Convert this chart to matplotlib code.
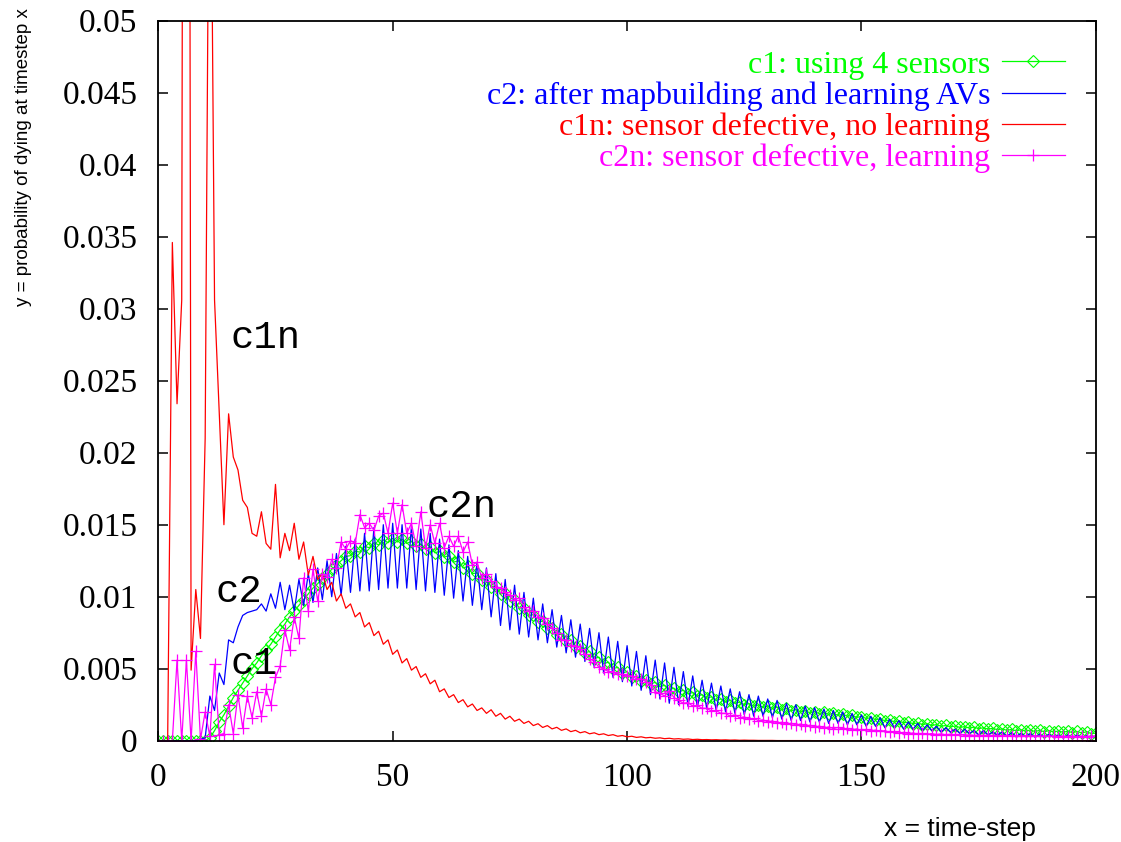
import numpy as np
import matplotlib.pyplot as plt
from matplotlib.ticker import FuncFormatter

plt.rcParams['font.family'] = ['Liberation Serif', 'DejaVu Serif']

# probability of dying at time-step x, stored in units of 1e-5
steps = np.arange(201)

c1 = [0, 0, 0, 0, 0, 0, 0, 0, 0, 0,
      0, 20, 70, 130, 180, 240, 300, 350, 400, 450,
      500, 540, 590, 630, 670, 720, 770, 810, 860, 900,
      940, 980, 1020, 1060, 1090, 1130, 1160, 1190, 1220, 1250,
      1280, 1285, 1315, 1310, 1350, 1340, 1375, 1360, 1395, 1375,
      1405, 1380, 1400, 1370, 1385, 1350, 1365, 1330, 1345, 1305,
      1315, 1275, 1285, 1240, 1250, 1200, 1210, 1160, 1165, 1115,
      1120, 1070, 1075, 1020, 1025, 970, 975, 920, 925, 870,
      875, 825, 830, 780, 785, 735, 740, 690, 700, 650,
      660, 610, 620, 570, 580, 535, 545, 500, 510, 470,
      480, 440, 450, 415, 425, 395, 405, 375, 385, 355,
      365, 340, 350, 325, 335, 310, 320, 295, 305, 280,
      290, 270, 280, 260, 268, 250, 258, 240, 248, 232,
      240, 224, 232, 216, 224, 208, 216, 200, 208, 194,
      202, 188, 196, 182, 190, 176, 184, 170, 176, 162,
      168, 154, 160, 146, 152, 138, 144, 130, 136, 124,
      130, 118, 124, 112, 118, 106, 112, 100, 106, 96,
      102, 92, 98, 88, 94, 84, 90, 80, 86, 76,
      82, 72, 78, 68, 76, 66, 74, 64, 72, 62,
      70, 60, 68, 58, 66, 56, 64, 54, 62, 50,
      52]

c2 = [0, 0, 0, 0, 0, 0, 0, 0, 0, 10,
      20, 310, 210, 470, 390, 700, 680, 790, 870, 890,
      900, 910, 950, 900, 1020, 920, 1100, 910, 1080, 900,
      1120, 940, 1160, 960, 1200, 980, 1250, 1000, 1300, 1010,
      1350, 1030, 1400, 1040, 1440, 1040, 1480, 1050, 1500, 1060,
      1510, 1060, 1500, 1060, 1490, 1050, 1470, 1040, 1440, 1030,
      1400, 1010, 1360, 990, 1320, 970, 1280, 940, 1240, 910,
      1200, 860, 1160, 800, 1120, 770, 1080, 740, 1030, 720,
      990, 700, 950, 680, 910, 650, 870, 610, 840, 580,
      810, 550, 780, 510, 750, 470, 720, 440, 690, 410,
      660, 380, 620, 350, 590, 320, 560, 290, 540, 260,
      510, 250, 480, 240, 450, 230, 420, 220, 400, 210,
      380, 200, 360, 190, 340, 180, 320, 170, 310, 170,
      290, 160, 280, 150, 260, 140, 250, 140, 240, 130,
      230, 130, 220, 120, 210, 120, 200, 110, 190, 110,
      180, 100, 170, 100, 160, 90, 150, 90, 140, 80,
      130, 80, 120, 70, 110, 70, 100, 60, 90, 60,
      80, 50, 80, 50, 70, 40, 70, 40, 60, 40,
      60, 30, 55, 30, 50, 30, 50, 25, 45, 25,
      45, 25, 40, 20, 40, 20, 40, 20, 35, 20,
      35]

c1n = [0, 0, 0, 3460, 2340, 3060, 20000, 490, 1050, 710,
       2100, 7200, 3060, 2280, 1500, 2270, 1970, 1880, 1670, 1620,
       1440, 1420, 1590, 1370, 1330, 1780, 1270, 1440, 1320, 1510,
       1260, 1380, 1150, 1280, 1120, 1160, 1050, 1100, 970, 1020,
       920, 950, 860, 890, 790, 820, 730, 760, 670, 700,
       600, 630, 540, 570, 490, 515, 440, 465, 395, 420,
       340, 360, 300, 320, 265, 285, 235, 255, 210, 228,
       190, 215, 170, 190, 150, 170, 135, 150, 120, 135,
       105, 118, 92, 105, 82, 93, 72, 82, 63, 72,
       55, 63, 48, 55, 42, 48, 36, 42, 31, 36,
       27, 31, 23, 27, 20, 23, 17, 20, 14, 17,
       12, 14, 10, 12, 8, 10, 7, 8, 6, 7,
       5, 6, 4, 5, 3, 4, 3, 3, 2, 2,
       2, 2, 1, 1, 1, 1, 1, 1, 1, 1] + [0] * 61

c2n = [0, 0, 0, 0, 560, 0, 560, 0, 620, 10,
       200, 30, 530, 40, 50, 250, 50, 320, 90, 310,
       160, 340, 170, 360, 250, 440, 520, 770, 630, 860,
       710, 1130, 900, 1190, 970, 1160, 1140, 1260, 1200, 1380,
       1330, 1390, 1370, 1570, 1480, 1510, 1460, 1560, 1580, 1440,
       1650, 1440, 1640, 1440, 1510, 1350, 1590, 1340, 1500, 1370,
       1510, 1340, 1420, 1350, 1420, 1310, 1380, 1220, 1240, 1130,
       1160, 1110, 1070, 1060, 1030, 1010, 980, 990, 930, 900,
       900, 860, 850, 810, 780, 750, 700, 700, 660, 660,
       640, 600, 570, 550, 510, 500, 480, 480, 460, 460,
       450, 450, 430, 430, 410, 390, 340, 330, 310, 345,
       300, 280, 260, 265, 240, 245, 225, 225, 205, 210,
       190, 190, 170, 180, 160, 165, 150, 155, 140, 145,
       130, 138, 122, 128, 114, 122, 108, 116, 100, 108,
       94, 102, 88, 96, 84, 92, 80, 86, 76, 82,
       72, 78, 68, 74, 64, 70, 58, 64, 52, 58,
       48, 54, 46, 52, 44, 50, 42, 48, 40, 46,
       38, 44, 36, 42, 36, 40, 34, 40, 34, 38,
       33, 37, 32, 36, 32, 35, 31, 35, 30, 34,
       30, 34, 29, 33, 29, 33, 28, 32, 28, 32,
       30]

labels = ["c1: using 4 sensors",
          "c2: after mapbuilding and learning AVs",
          "c1n: sensor defective, no learning",
          "c2n: sensor defective, learning"]
xticks = [0, 50, 100, 150, 200]
yticks = [0, 0.005, 0.01, 0.015, 0.02, 0.025, 0.03, 0.035, 0.04, 0.045, 0.05]


def prob(vals):
    return np.array(vals) * 1e-5


fig = plt.figure(figsize=(11.21, 8.42), dpi=100)
ax = fig.add_axes([0.1412, 0.1203, 0.8364, 0.8551])

ax.plot(steps, prob(c1), color='#00ff00', lw=0.9, marker='D', ms=6.5,
        mfc='none', mew=0.8, label=labels[0])
ax.plot(steps, prob(c2), color='#0000ff', lw=0.9, label=labels[1])
ax.plot(steps, prob(c1n), color='#ff0000', lw=0.9, label=labels[2])
ax.plot(steps, prob(c2n), color='#ff00ff', lw=0.9, marker='+', ms=9,
        mew=0.9, label=labels[3])

ax.set_xlim(0, 200)
ax.set_ylim(0, 0.05)
ax.set_xticks(xticks)
ax.set_yticks(yticks)
ax.yaxis.set_major_formatter(FuncFormatter(lambda v, p: '%g' % v))
ax.tick_params(direction='in', length=7, width=1.1, top=True, right=True,
               labelsize=24)
ax.tick_params(axis='y', pad=15)
ax.tick_params(axis='x', pad=16)
for s in ax.spines.values():
    s.set_linewidth(1.3)

# curve names written next to the curves
mono = dict(family=['Liberation Mono', 'DejaVu Sans Mono'], size=28, va='center')
ax.text(15.3, 0.028, 'c1n', **mono)
ax.text(12.1, 0.0103, 'c2', **mono)
ax.text(15.3, 0.0053, 'c1', **mono)
ax.text(57.3, 0.0162, 'c2n', **mono)

ax.legend(loc='upper right', bbox_to_anchor=(0.967, 0.959), frameon=False,
          markerfirst=False, numpoints=1, handlelength=1.97, handletextpad=0.37,
          labelspacing=0.05, borderaxespad=0, borderpad=0,
          labelcolor='linecolor', prop={'size': 23})

fig.text(24 / 1121, 1 - 8 / 842, 'y = probability of dying at timestep x',
         rotation=90, ha='center', va='top', size=13.5,
         family=['Liberation Sans Narrow', 'Liberation Sans'])
fig.text(960 / 1121, 1 - 829 / 842, 'x = time-step', ha='center', va='center',
         size=19, family=['Liberation Sans', 'DejaVu Sans'])

fig.savefig('out.png', dpi=100)
